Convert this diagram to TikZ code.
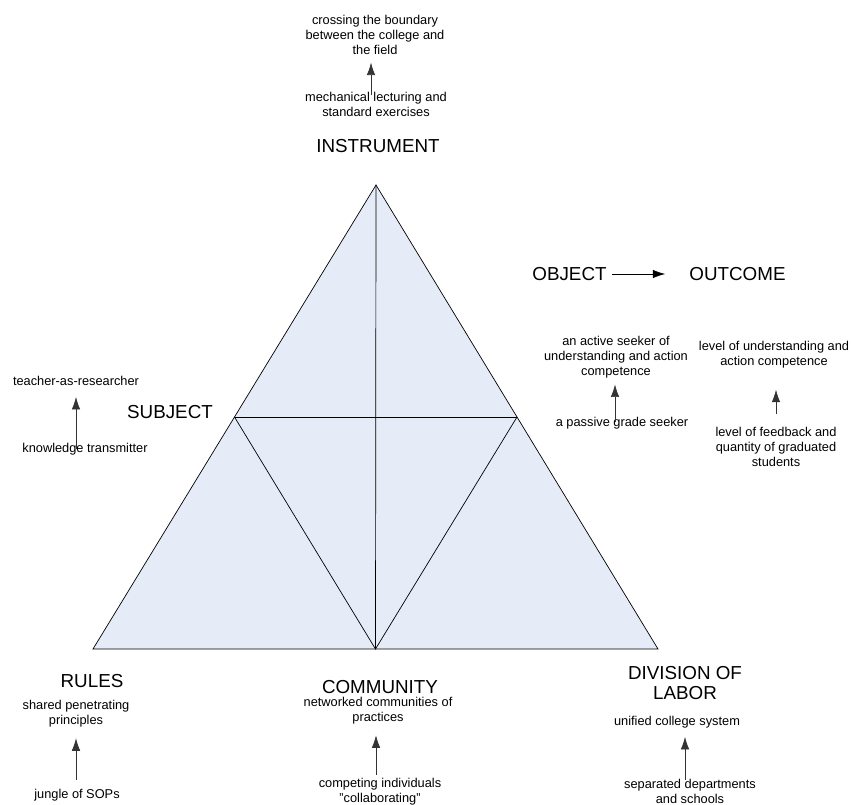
\documentclass[tikz,border=0pt]{standalone}
\usepackage{fontspec}
\setmainfont{Liberation Sans}
\usetikzlibrary{arrows.meta}
\definecolor{triblue}{RGB}{230,236,247}
\tikzset{lbl/.style={font=\fontsize{12.8}{15}\selectfont, align=center, inner sep=0pt}}
\tikzset{big/.style={font=\fontsize{18.8}{20.5}\selectfont, align=center, inner sep=0pt}}
\tikzset{uparr/.style={-{Latex[length=12.5pt,width=8.5pt]}, draw=black!80, line width=0.7pt}}

\begin{document}
\begin{tikzpicture}[x=1pt,y=-1pt]
            \useasboundingbox (0,0) rectangle (854,805);
            % the triangle
            \coordinate (top) at (376,185);
            \coordinate (bl) at (93,649);
            \coordinate (br) at (658,649);
            \coordinate (lm) at (234.5,417);
            \coordinate (rm) at (517,417);
            \coordinate (bm) at (375.5,649);
            \filldraw [fill=triblue, line width=0.7pt] (top)--(bl)--(br)--cycle;
            \draw [line width=0.7pt] (top)--(bm);
            \draw [line width=0.7pt] (lm)--(rm);
            \draw [line width=0.7pt] (lm)--(bm)--(rm);
            % instrument
            \node [lbl] (boundary) at (375,35) {crossing the boundary\\between the college and\\the field};
            \node [lbl] (lecturing) at (376,104) {mechanical lecturing and\\standard exercises};
            \node [big] (instrument) at (378,146) {INSTRUMENT};
            \draw [uparr, shorten <=-3.7pt, shorten >=7.7pt] (lecturing.north -| 371,0) -- (boundary.south -| 371,0);
            % subject
            \node [lbl] (teacher) at (76,381) {teacher-as-researcher};
            \node [big] (subject) at (170,412) {SUBJECT};
            \node [lbl] (transmitter) at (85,449) {knowledge transmitter};
            \draw [uparr, shorten <=-6.6pt, shorten >=11pt] (transmitter.north -| teacher.south) -- (teacher.south);
            % object and outcome
            \node [big] (object) at (569.5,274) {OBJECT};
            \node [big] (outcome) at (737.5,274) {OUTCOME};
            \draw [-{Latex[length=12.5pt,width=8.5pt]}, line width=0.7pt, shorten <=5pt, shorten >=24pt] (object) -- (outcome);
            \node [lbl] (active) at (616,357) {an active seeker of\\understanding and action\\competence};
            \node [lbl] (passive) at (622,423) {a passive grade seeker};
            \draw [uparr, shorten <=-5.3pt, shorten >=6.3pt] (passive.north -| 615,0) -- (active.south -| 615,0);
            \node [lbl] (understanding) at (774,355) {level of understanding and\\action competence};
            \node [lbl] (feedback) at (776,447) {level of feedback and\\quantity of graduated\\students};
            \draw [uparr, shorten <=12.7pt, shorten >=21pt] (feedback.north -| 776,0) -- (understanding.south -| 776,0);
            % rules
            \node [big] (rules) at (92,681) {RULES};
            \node [lbl] (shared) at (76,714) {shared penetrating\\principles};
            \node [lbl] (jungle) at (77,795) {jungle of SOPs};
            \draw [uparr, shorten <=9pt, shorten >=10.6pt] (jungle.north -| 76,0) -- (shared.south -| 76,0);
            % community
            \node [big] (community) at (380,687) {COMMUNITY};
            \node [lbl] (networked) at (378,711) {networked communities of\\practices};
            \node [lbl] (competing) at (380,792) {competing individuals\\''collaborating''};
            \draw [uparr, shorten <=3.6pt, shorten >=10.7pt] (competing.north -| 376,0) -- (networked.south -| 376,0);
            % division of labor
            \node [big] (division) at (685,683) {DIVISION OF\\LABOR};
            \node [lbl] (unified) at (677,722) {unified college system};
            \node [lbl] (separated) at (690,791.5) {separated departments\\and schools};
            \draw [uparr, shorten <=-0.8pt, shorten >=8.7pt] (separated.north -| 685,0) -- (unified.south -| 685,0);
        \end{tikzpicture}
\end{document}
